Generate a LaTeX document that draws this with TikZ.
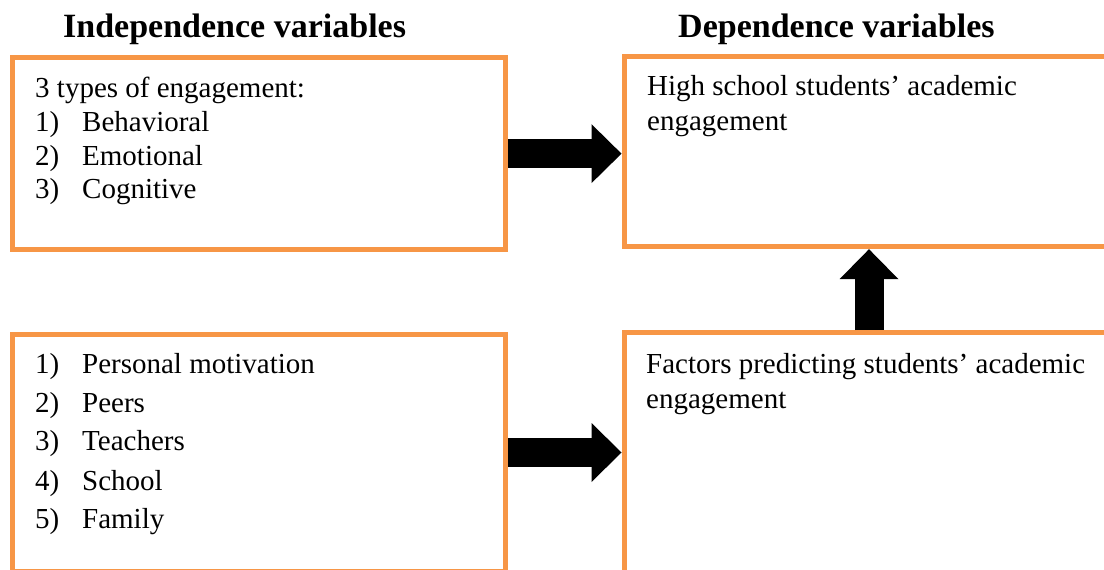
\documentclass[tikz,border=0pt]{standalone}
\usepackage{fontspec}
\setmainfont{Liberation Serif}
\usetikzlibrary{arrows.meta}
\definecolor{boxorange}{HTML}{F79646}
\newcommand{\itm}[2]{\makebox[47pt][l]{#1}#2}
\begin{document}
\begin{tikzpicture}[x=1pt,y=-1pt,
  box/.style={draw=boxorange,line width=5pt,rectangle,inner sep=0pt,fill=white},
  txt/.style={anchor=base west,inner sep=0pt,font=\fontsize{29pt}{34pt}\selectfont},
  ttl/.style={anchor=base west,inner sep=0pt,font=\fontsize{34pt}{40pt}\selectfont\bfseries},
  blockarrow/.style={line width=29pt,-{Triangle[length=30pt,width=59pt,line width=0pt]}}]
\useasboundingbox (0,0) rectangle (1104,570);
\clip (0,0) rectangle (1104,570);
% titles
\node[ttl] (t1) at (63,37) {Independence variables};
\node[ttl] (t2) at (678,37) {Dependence variables};
% boxes
\node[box,minimum width=493pt,minimum height=191.7pt] (tl) at (259,153.65) {};
\node[box,minimum width=490pt,minimum height=190.7pt] (tr) at (869,151.35) {};
\node[box,minimum width=493pt,minimum height=237pt] (bl) at (259,452.5) {};
\node[box,minimum width=490pt,minimum height=242.5pt] (br) at (869,453.75) {};
% top-left text
\node[txt] (a0) at (35,97) {3 types of engagement:};
\node[txt] (a1) at (35,131) {\itm{1)}{Behavioral}};
\node[txt] (a2) at (35,165) {\itm{2)}{Emotional}};
\node[txt] (a3) at (35,198) {\itm{3)}{Cognitive}};
% top-right text
\node[txt] (b0) at (647,95) {High school students’ academic};
\node[txt] (b1) at (647,130) {engagement};
% bottom-left text
\node[txt] (c1) at (35,373) {\itm{1)}{Personal motivation}};
\node[txt] (c2) at (35,412) {\itm{2)}{Peers}};
\node[txt] (c3) at (35,450) {\itm{3)}{Teachers}};
\node[txt] (c4) at (35,490) {\itm{4)}{School}};
\node[txt] (c5) at (35,528) {\itm{5)}{Family}};
% bottom-right text
\node[txt] (d0) at (646,373) {Factors predicting students’ academic};
\node[txt] (d1) at (646,408) {engagement};
% arrows
\draw[blockarrow] (tl.east) -- (tl.east -| tr.west);
\draw[blockarrow] (bl.east) -- (bl.east -| br.west);
\draw[blockarrow] (br.north) -- (tr.south);
\end{tikzpicture}
\end{document}
